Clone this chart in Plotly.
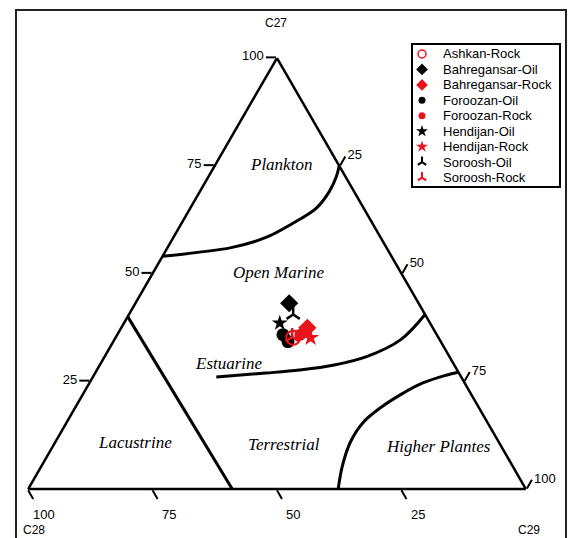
import plotly.graph_objects as go

# ---- sample compositions (% of C27, C28, C29 regular steranes) ----
series_names = [
    "Ashkan-Rock", "Bahregansar-Oil", "Bahregansar-Rock", "Foroozan-Oil",
    "Foroozan-Rock", "Hendijan-Oil", "Hendijan-Rock", "Soroosh-Oil", "Soroosh-Rock",
]
c27_values = [[35.1], [43.1], [37.4], [35.8, 34.2], [35.8], [38.5], [35.1], [40.5], [35.3]]
c28_values = [[29.2], [26.0], [25.2], [30.9, 30.7], [27.4], [30.2], [25.7], [26.5], [29.3]]
c29_values = [[35.7], [30.9], [37.4], [33.3, 35.1], [36.8], [31.3], [39.2], [33.0], [35.4]]

series_colors = ["#e8141b", "black", "#e8141b", "black", "#e8141b",
                 "black", "#e8141b", "black", "#e8141b"]
series_symbols = ["circle-open", "diamond", "diamond", "circle", "circle",
                  "star", "star", "y-up", "y-up"]
series_sizes = [14, 14, 14, 13, 12, 12, 13, 11, 11]
key_sizes = [8, 9, 9, 7, 7, 9, 9, 7, 7]
# order in which the groups are painted (rock samples on top)
draw_order = [3, 5, 1, 7, 4, 2, 6, 0, 8]

# ---- environment field boundaries (C27, C28, C29) ----
plankton_c27 = [54.0, 54.9, 56.0, 58.3, 61.5, 65.1, 69.0, 72.4, 75.0]
plankton_c28 = [46.0, 38.5, 31.2, 23.2, 16.3, 9.6, 5.0, 1.9, 0.0]
plankton_c29 = [0.0, 6.6, 12.8, 18.5, 22.2, 25.3, 26.0, 25.7, 25.0]

estuarine_c27 = [26.0, 26.9, 27.6, 28.7, 30.8, 34.6, 40.5]
estuarine_c28 = [49.2, 38.8, 31.7, 24.4, 16.5, 7.9, 0.0]
estuarine_c29 = [24.8, 34.3, 40.7, 46.9, 52.8, 57.5, 59.5]

higher_c27 = [0.0, 5.2, 10.9, 15.5, 18.9, 21.9, 24.6, 26.4, 27.1]
higher_c28 = [37.7, 34.3, 29.8, 24.9, 19.7, 14.2, 8.4, 2.8, 0.0]
higher_c29 = [62.3, 60.5, 59.3, 59.6, 61.4, 63.9, 67.0, 70.8, 72.9]

lacustrine_c27 = [40.0, 0.0]
lacustrine_c28 = [60.0, 59.0]
lacustrine_c29 = [0.0, 41.0]

tick_values = [25, 50, 75, 100]
tick_labels = ["25", "50", "75", "100"]

field_labels = ["Plankton", "Open Marine", "Estuarine", "Lacustrine",
                "Terrestrial", "Higher Plantes"]

SANS = "Liberation Sans, Arial"
SERIF = "Liberation Serif, Times New Roman"

# the triangle occupies the lower part of the paper; TRI_H is its height in paper units
TRI_H = 431 / 449

fig = go.Figure()

for a, b, c in [
    (plankton_c27, plankton_c28, plankton_c29),
    (estuarine_c27, estuarine_c28, estuarine_c29),
    (higher_c27, higher_c28, higher_c29),
    (lacustrine_c27, lacustrine_c28, lacustrine_c29),
]:
    fig.add_trace(go.Scatterternary(
        a=a, b=b, c=c, mode="lines",
        line=dict(color="black", width=3, shape="spline", smoothing=1.0),
        showlegend=False, hoverinfo="skip",
    ))


def marker_style(i, size):
    sym = series_symbols[i]
    m = dict(symbol=sym, size=size, color=series_colors[i])
    if sym == "circle-open":
        m["line"] = dict(color=series_colors[i], width=2 if size > 10 else 1.5)
    elif sym == "y-up":
        m["line"] = dict(color=series_colors[i], width=2.5 if size > 10 else 2)
    else:
        m["line"] = dict(width=0)
    return m


for i in draw_order:
    fig.add_trace(go.Scatterternary(
        a=c27_values[i], b=c28_values[i], c=c29_values[i],
        mode="markers", name=series_names[i],
        marker=marker_style(i, series_sizes[i]), showlegend=False,
    ))

# legend keys: one row per group on a hidden helper axis
for i in range(len(series_names)):
    fig.add_trace(go.Scatter(
        x=[422], y=[i], mode="markers", marker=marker_style(i, key_sizes[i]),
        xaxis="x", yaxis="y", cliponaxis=False, showlegend=False,
        hoverinfo="skip",
    ))
    fig.add_annotation(
        x=441, y=i, xref="x", yref="y", text=series_names[i], showarrow=False,
        xanchor="left", yanchor="middle",
        font=dict(family=SANS, size=13, color="black"),
    )

axis_common = dict(
    tickvals=tick_values, ticktext=tick_labels, ticks="outside", ticklen=10,
    tickwidth=1.5, tickcolor="black", showgrid=False, showline=True,
    linecolor="black", linewidth=2.5, min=0, title=dict(text=""),
    tickfont=dict(family=SANS, size=13, color="black"),
)

fig.update_layout(
    width=573, height=538,
    margin=dict(l=28, r=47, t=40, b=49),
    paper_bgcolor="white",
    plot_bgcolor="rgba(0,0,0,0)",
    showlegend=False,
    ternary=dict(
        sum=100, bgcolor="white",
        domain=dict(x=[0, 1], y=[0, TRI_H]),
        aaxis=dict(**axis_common),
        baxis=dict(**{**axis_common, "showticklabels": False}),
        caxis=dict(**axis_common),
    ),
    xaxis=dict(domain=[0.7711, 1.0], range=[412, 526], visible=False,
               fixedrange=True),
    yaxis=dict(domain=[0.6726, 0.9911], range=[8.608, -0.647], visible=False,
               fixedrange=True),
)

# C28 tick labels along the base
for v, t in zip(tick_values, tick_labels):
    fig.add_annotation(
        x=1 - v / 100 + 0.033, y=-0.0557, xref="paper", yref="paper", text=t,
        showarrow=False, xanchor="center", yanchor="middle",
        font=dict(family=SANS, size=13, color="black"),
    )

# component names at the corners
for text, x, y in [("C27", 0.498, 1.0379), ("C28", 0.012, -0.0913),
                   ("C29", 1.006, -0.0913)]:
    fig.add_annotation(
        x=x, y=y, xref="paper", yref="paper", text=text, showarrow=False,
        xanchor="center", yanchor="middle",
        font=dict(family=SANS, size=12, color="black"),
    )

label_pos = [(0.509, 0.752), (0.505, 0.503), (0.403, 0.292),
             (0.214, 0.109), (0.515, 0.103), (0.825, 0.098)]
for text, (x, y) in zip(field_labels, label_pos):
    fig.add_annotation(
        x=x, y=y * TRI_H, xref="paper", yref="paper", text=f"<i>{text}</i>",
        showarrow=False, xanchor="center", yanchor="middle",
        font=dict(family=SERIF, size=17, color="black"),
    )

# outer frame around the whole diagram
fig.add_shape(type="rect", xref="paper", yref="paper",
              x0=-0.0241, x1=1.0803, y0=-0.25, y1=1.0668,
              line=dict(color="#222222", width=2), layer="below")
# legend box
fig.add_shape(type="rect", xref="paper", yref="paper",
              x0=0.7711, x1=1.0683, y0=0.6726, y1=0.9911,
              line=dict(color="black", width=2), fillcolor="rgba(0,0,0,0)",
              layer="above")

fig.write_html("out.html")
